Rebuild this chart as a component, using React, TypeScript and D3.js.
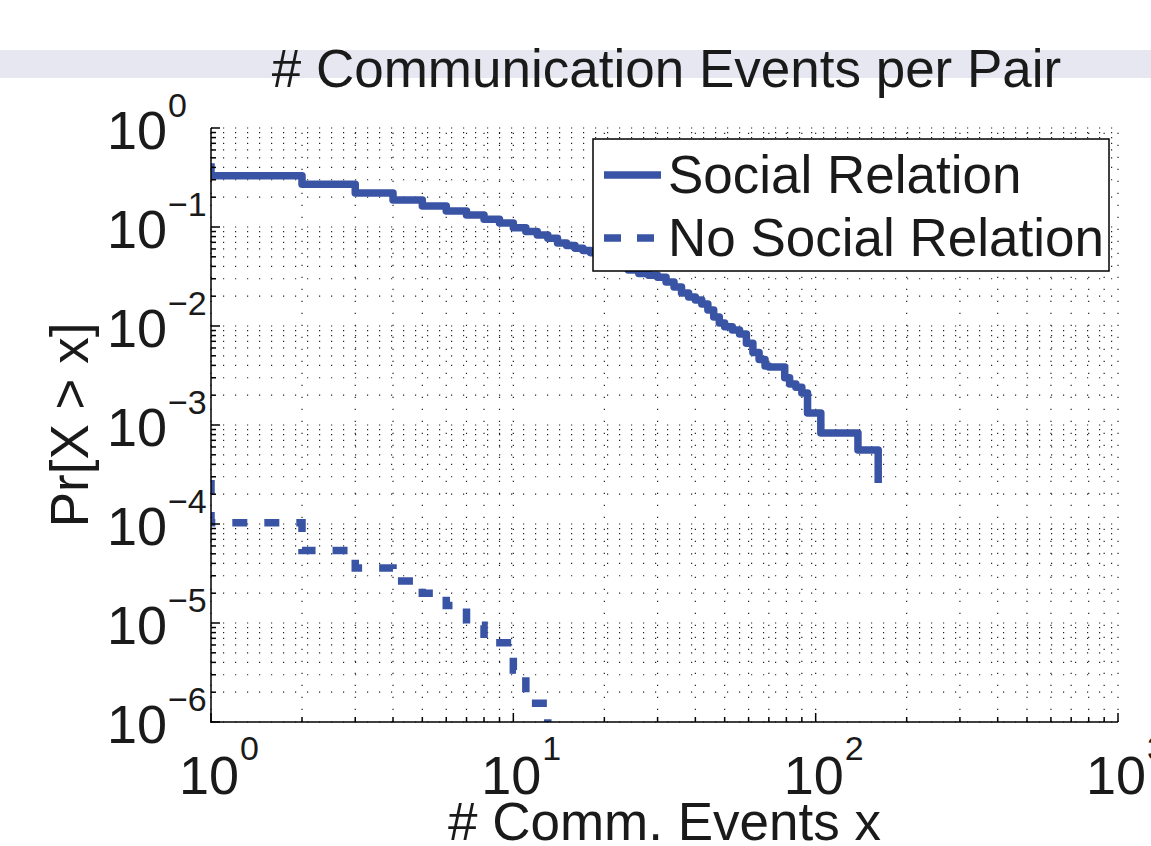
import React from "react";
import * as d3 from "d3";

// ---- data ----
const socialX = [1, 1, 2, 3, 4, 5, 6, 7, 8, 9, 10, 11, 12, 13, 14, 15, 16, 17, 18, 20, 22, 24, 26, 28, 30, 32, 34, 36, 38, 40, 42, 44, 46, 48, 50, 53, 56, 59, 62, 65, 68, 70, 79, 82, 86, 90, 94, 104, 138, 161];
const socialY = [0.44, 0.33, 0.27, 0.22, 0.187, 0.163, 0.145, 0.132, 0.12, 0.11, 0.098, 0.09, 0.083, 0.077, 0.069, 0.065, 0.061, 0.058, 0.055, 0.049, 0.042, 0.0368, 0.034, 0.0326, 0.031, 0.0279, 0.0247, 0.0215, 0.0196, 0.0183, 0.0167, 0.0145, 0.0123, 0.0107, 0.0098, 0.0091, 0.0083, 0.0067, 0.0054, 0.0046, 0.00395, 0.00385, 0.003, 0.0026, 0.0024, 0.0021, 0.00132, 0.00083, 0.00056, 0.00026];
const noSocialX = [1, 1, 2, 3, 4, 5, 6, 7, 8, 10, 11, 13];
const noSocialY = [2.78e-4, 1.03e-4, 5.4e-5, 3.6e-5, 2.65e-5, 2.0e-5, 1.5e-5, 9.5e-6, 6.3e-6, 3.35e-6, 1.55e-6, 4e-7];
const xTickExps = [0, 1, 2, 3];
const yTickExps = [0, -1, -2, -3, -4, -5, -6];
const legendLabels = ["Social Relation", "No Social Relation"];
const titleText = "# Communication Events per Pair";
const xLabelText = "# Comm. Events x";
const yLabelText = "Pr[X > x]";

const FONT = "'Liberation Sans', Arial, Helvetica, sans-serif";
const BLUE = "#3a54a5";

export default function App() {
  const W = 1151, H = 846;
  const L = 211, R = 1118, T = 128, B = 722;
  const x = d3.scaleLog().domain([1, 1000]).range([L, R]);
  const y = d3.scaleLog().domain([1e-6, 1]).range([B, T]);
  const line = d3
    .line<[number, number]>()
    .x((d) => x(d[0]))
    .y((d) => y(d[1]))
    .curve(d3.curveStepAfter);

  const social: [number, number][] = socialX.map((v, i) => [v, socialY[i]]);
  const noSocial: [number, number][] = noSocialX.map((v, i) => [v, noSocialY[i]]);

  const xGrid: number[] = [];
  for (let k = 0; k < 3; k++) for (let m = 1; m <= 9; m++) xGrid.push(m * Math.pow(10, k));
  xGrid.push(1000);
  const yGrid: number[] = [];
  for (let k = -6; k < 0; k++) for (let m = 1; m <= 9; m++) yGrid.push(m * Math.pow(10, k));
  yGrid.push(1);

  const isMajor = (v: number) => Math.abs(Math.log10(v) - Math.round(Math.log10(v))) < 1e-9;
  const sup = (e: number) => (e < 0 ? "\u2212" + Math.abs(e) : String(e));

  return (
    <svg
      width={W}
      height={H}
      style={{ position: "absolute", left: 0, top: 0, background: "#fff" }}
      fontFamily={FONT}
    >
      <defs>
        <clipPath id="plotClip">
          <rect x={L} y={T} width={R - L} height={B - T} />
        </clipPath>
      </defs>
      <rect x={0} y={0} width={W} height={H} fill="#fff" />
      {/* top band */}
      <rect x={0} y={50} width={W} height={28} fill="#e7e7f1" />
      <text x={(L + R) / 2 + 2} y={87} textAnchor="middle" fontSize={53} fill="#1a1a1a">
        {titleText}
      </text>

      {/* grid */}
      <g stroke="#222" strokeWidth={1.2} strokeDasharray="1.2 10.8" fill="none">
        {yGrid.map((v, i) => (
          <line key={"gy" + i} x1={L} x2={R} y1={y(v)} y2={y(v)} />
        ))}
        {xGrid.map((v, i) => (
          <line key={"gx" + i} x1={x(v)} x2={x(v)} y1={B} y2={T} />
        ))}
      </g>

      {/* series */}
      <g clipPath="url(#plotClip)" fill="none" stroke={BLUE} strokeWidth={7.5}>
        <path d={line(social) || ""} strokeLinejoin="round" />
        <path d={line(noSocial) || ""} strokeDasharray="15 17" />
      </g>

      {/* axes */}
      <g stroke="#000" strokeWidth={1.5}>
        <line x1={L} x2={L} y1={T} y2={B + 0.75} />
        <line x1={L - 0.75} x2={R} y1={B} y2={B} />
        {yGrid.map((v, i) => (
          <line key={"ty" + i} x1={L} x2={L + (isMajor(v) ? 9 : 5)} y1={y(v)} y2={y(v)} />
        ))}
        {xGrid.map((v, i) => (
          <line key={"tx" + i} x1={x(v)} x2={x(v)} y1={B} y2={B - (isMajor(v) ? 9 : 5)} />
        ))}
      </g>

      {/* y tick labels */}
      <g fill="#1a1a1a">
        {yTickExps.map((e) => {
          const py = y(Math.pow(10, e));
          return (
            <g key={"yl" + e}>
              <text x={167} y={py + 21} fontSize={54} textAnchor="end">
                10
              </text>
              <text x={168} y={py - 11} fontSize={34}>
                {sup(e)}
              </text>
            </g>
          );
        })}
        {xTickExps.map((e) => {
          const px = x(Math.pow(10, e));
          return (
            <g key={"xl" + e}>
              <text x={px - 2} y={794} fontSize={54} textAnchor="middle">
                10
              </text>
              <text x={px + 29} y={760} fontSize={34}>
                {sup(e)}
              </text>
            </g>
          );
        })}
      </g>

      {/* axis labels */}
      <text x={(L + R) / 2} y={840} fontSize={53} textAnchor="middle" fill="#1a1a1a">
        {xLabelText}
      </text>
      <text
        transform={`translate(88, ${(T + B) / 2}) rotate(-90)`}
        fontSize={53}
        textAnchor="middle"
        fill="#1a1a1a"
      >
        {yLabelText}
      </text>

      {/* legend */}
      <rect x={593} y={139} width={516} height={132} fill="#fff" stroke="#000" strokeWidth={1.5} />
      <line x1={604} x2={661} y1={175} y2={175} stroke={BLUE} strokeWidth={7.5} />
      <line x1={604} x2={655} y1={238} y2={238} stroke={BLUE} strokeWidth={7.5} strokeDasharray="17 16" />
      <text x={668} y={193} fontSize={53} fill="#1a1a1a">
        {legendLabels[0]}
      </text>
      <text x={668} y={256} fontSize={53} fill="#1a1a1a">
        {legendLabels[1]}
      </text>
    </svg>
  );
}
